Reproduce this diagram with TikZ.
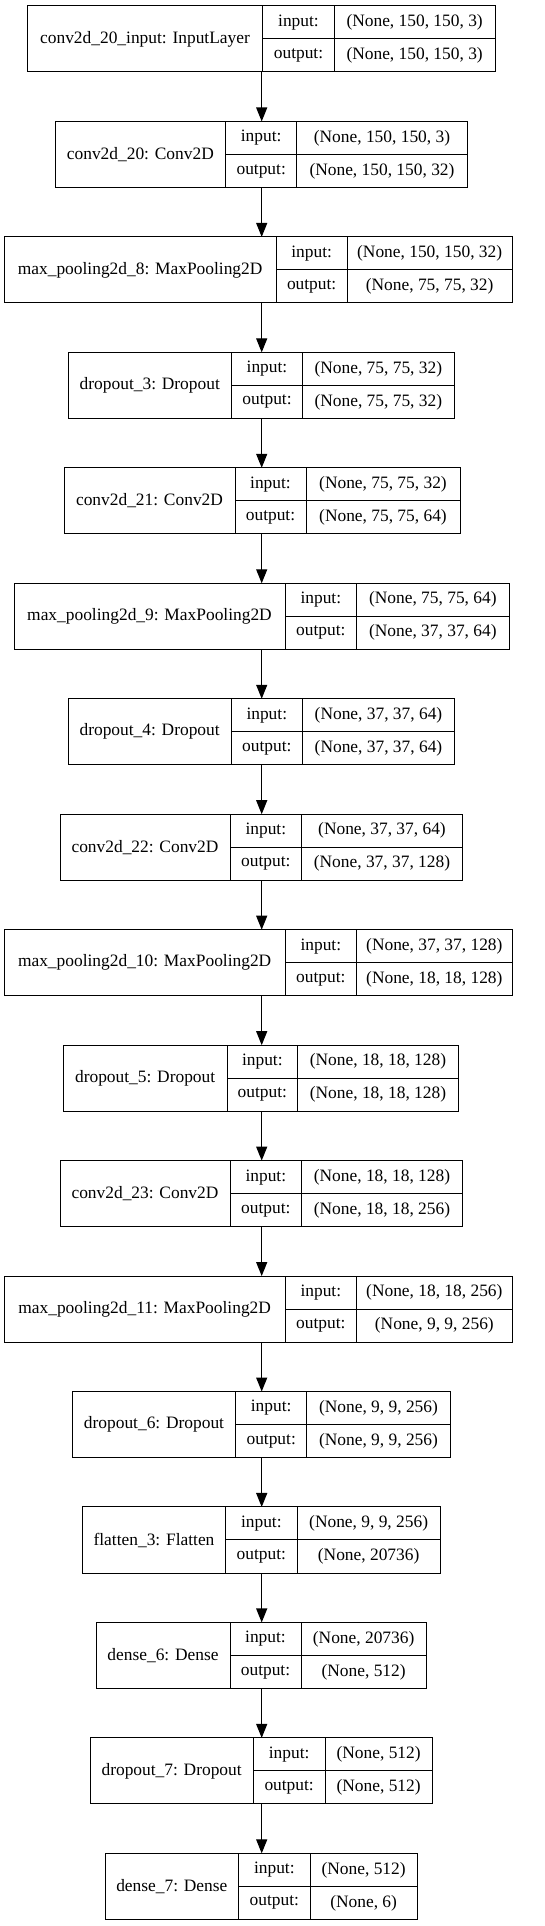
\documentclass[tikz,border=0pt]{standalone}
\usepackage{fontspec}
\setmainfont{Liberation Serif}
\usepackage{tikz}
\usetikzlibrary{arrows.meta}
\tikzset{cell/.style={draw,line width=1pt,inner sep=0pt,outer sep=0pt,anchor=north west},
  arr/.style={line width=1.2pt,-{Triangle[length=14pt,width=11pt]}}}
\newcommand{\layer}[8]{%
\pgfmathsetmacro{\ty}{6+(#1-1)*115.46}
\node[inner sep=0pt,outer sep=0pt,anchor=north west,minimum width={(#5-#2)*1pt},minimum height=66pt] (b#1) at (#2,\ty) {};
\node[cell,minimum width={(#3-#2)*1pt},minimum height=66pt] (n#1) at (#2,\ty) {#6};
\node[cell,minimum width={(#4-#3)*1pt},minimum height=33pt] (i#1) at (#3,\ty) {input:};
\node[cell,minimum width={(#4-#3)*1pt},minimum height=33pt] (o#1) at (i#1.south west) {output:};
\node[cell,minimum width={(#5-#4)*1pt},minimum height=33pt] (si#1) at (i#1.north east) {#7};
\node[cell,minimum width={(#5-#4)*1pt},minimum height=33pt] (so#1) at (si#1.south west) {#8};
}
\begin{document}
\begin{tikzpicture}[x=1pt,y=-1pt,font=\fontsize{17.4}{20}\selectfont]
\useasboundingbox (0,0) rectangle (544,1926);
\layer{1}{27.3}{262.7}{334.3}{495}{conv2d\_20\_input: InputLayer}{(None, 150, 150, 3)}{(None, 150, 150, 3)}
\layer{2}{55}{225.7}{296.7}{467.3}{conv2d\_20: Conv2D}{(None, 150, 150, 3)}{(None, 150, 150, 32)}
\layer{3}{4.3}{276}{347.3}{512}{max\_pooling2d\_8: MaxPooling2D}{(None, 150, 150, 32)}{(None, 75, 75, 32)}
\layer{4}{68.3}{231.3}{302.7}{454}{dropout\_3: Dropout}{(None, 75, 75, 32)}{(None, 75, 75, 32)}
\layer{5}{64}{235}{306}{460}{conv2d\_21: Conv2D}{(None, 75, 75, 32)}{(None, 75, 75, 64)}
\layer{6}{14}{285}{356.7}{509}{max\_pooling2d\_9: MaxPooling2D}{(None, 75, 75, 64)}{(None, 37, 37, 64)}
\layer{7}{68}{231.3}{302.3}{454.7}{dropout\_4: Dropout}{(None, 37, 37, 64)}{(None, 37, 37, 64)}
\layer{8}{60}{230}{301.7}{462.3}{conv2d\_22: Conv2D}{(None, 37, 37, 64)}{(None, 37, 37, 128)}
\layer{9}{4.3}{285}{356.7}{512}{max\_pooling2d\_10: MaxPooling2D}{(None, 37, 37, 128)}{(None, 18, 18, 128)}
\layer{10}{63.3}{227}{297.7}{458.3}{dropout\_5: Dropout}{(None, 18, 18, 128)}{(None, 18, 18, 128)}
\layer{11}{60}{230}{301.7}{462.3}{conv2d\_23: Conv2D}{(None, 18, 18, 128)}{(None, 18, 18, 256)}
\layer{12}{4.3}{285}{356.7}{512}{max\_pooling2d\_11: MaxPooling2D}{(None, 18, 18, 256)}{(None, 9, 9, 256)}
\layer{13}{72.3}{235.7}{306.7}{450.3}{dropout\_6: Dropout}{(None, 9, 9, 256)}{(None, 9, 9, 256)}
\layer{14}{82.3}{225.7}{297}{440.3}{flatten\_3: Flatten}{(None, 9, 9, 256)}{(None, 20736)}
\layer{15}{96}{230}{301}{426.3}{dense\_6: Dense}{(None, 20736)}{(None, 512)}
\layer{16}{90}{253.3}{325}{432.3}{dropout\_7: Dropout}{(None, 512)}{(None, 512)}
\layer{17}{105}{238.7}{310}{417.3}{dense\_7: Dense}{(None, 512)}{(None, 6)}
\coordinate (ax) at (261.7,0);
\foreach \k [evaluate=\k as \n using int(\k+1)] in {1,...,16}
  \draw[arr] (b\k.south -| ax) -- (b\n.north -| ax);
\end{tikzpicture}
\end{document}
